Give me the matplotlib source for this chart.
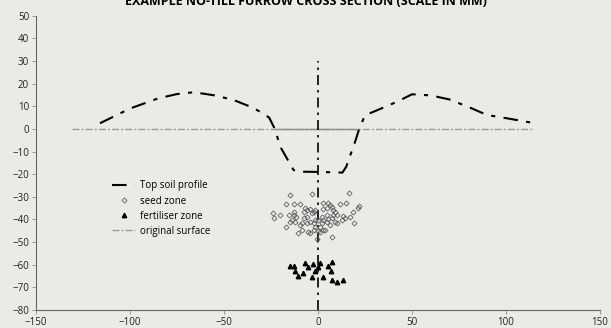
import numpy as np
import matplotlib
matplotlib.use("Agg")
import matplotlib.pyplot as plt

plt.rcParams["font.family"] = ["Open Sans", "DejaVu Sans"]

# top soil profile (mm)
profile_x = [-116, -100, -85, -75, -66, -55, -45, -35, -30, -26, -23, -20, -13, -10, 0, 13, 15, 20, 22, 25, 35, 42, 50, 60, 70, 82, 90, 97, 114]
profile_y = [2.5, 9, 13.5, 15.4, 16.2, 14.8, 12.8, 9.5, 7.2, 5, 0, -8, -18.2, -18.9, -19, -19.3, -16.7, -5, 0.3, 6, 9.5, 12, 15.3, 14.8, 13, 9, 6.1, 5.2, 2.7]

# original soil surface
surface_x = [-131, 114]
surface_y = [0, 0]
slot_x = [-23, 22]
slot_y = [0, 0]

# furrow centre line
centre_x = [0, 0]
centre_y = [-80, 30]

seed_x = [-14.8, -3.3, 16.7, -16.9, -13.0, -9.5, -6.8, -6.0, -7.7, -4.2, -2.4, -3.3, -1.5, 2.9, 5.5, 6.4,
          7.3, 4.6, 2.9, 8.2, 9.1, 11.7, 14.9, 22.0, 21.4, 18.8, -24.0, -23.3, -20.1, -15.7, -13.0, -14.8,
          -13.9, -12.1, -11.6, -8.6, -9.5, -7.7, -6.0, -4.2, -2.4, -1.5, 0.2, 2.0, 2.9, 4.6, 5.5, 7.3,
          9.1, 10.0, 12.6, 13.5, 14.4, 17.0, 19.3, -16.9, -10.9, -8.6, -5.1, -4.2, -2.4, 0.2, 1.1, 2.9,
          3.8, 7.3, -0.7, 6.4, 10.0, 8.2, 4.6, 2.0, -6.0, -13.0, -1.5, 1.1]
seed_y = [-29.2, -28.9, -28.5, -33.2, -33.2, -33.2, -35.1, -35.8, -36.6, -35.5, -36.6, -37.3, -35.8, -32.6,
          -32.9, -33.6, -34.3, -35.1, -35.5, -35.8, -36.6, -33.2, -32.6, -34.1, -35.1, -36.6, -37.3, -39.5,
          -38.0, -38.0, -38.0, -41.0, -40.2, -41.0, -38.8, -41.7, -42.4, -39.5, -38.8, -41.0, -41.7, -40.2,
          -40.2, -41.4, -40.2, -41.0, -39.9, -39.5, -41.0, -41.7, -40.2, -38.5, -39.5, -39.1, -41.4, -43.5,
          -46.1, -44.7, -45.4, -46.1, -44.7, -45.0, -45.4, -44.7, -44.7, -47.6, -48.8, -42.4, -38.0, -38.0,
          -38.0, -38.8, -41.7, -36.6, -43.2, -43.2]

fert_x = [-14.8, -13.0, -6.8, -5.1, -2.8, 0.2, 0.8, -12.1, -8.1, -10.9, -1.5, -3.0, 2.9, 5.2, 7.3, 6.9, 7.3, 9.9, 13.1]
fert_y = [-60.6, -60.6, -59.1, -60.9, -59.7, -61.2, -59.4, -62.6, -63.8, -65.0, -62.6, -65.6, -65.6, -60.6,
          -58.7, -62.6, -66.8, -67.8, -66.8]

bg = "#ECEAE5"
fig = plt.figure(figsize=(6.11, 3.28), dpi=100, facecolor=bg)
ax = fig.add_axes([0.059, 0.055, 0.923, 0.897], facecolor=bg)

ax.plot(surface_x, surface_y, color="#9a9a9a", lw=1.0, dashes=(5, 1.5, 1.5, 1.5), label="original surface", zorder=1)
ax.plot(slot_x, slot_y, color="#8c8c8c", lw=1.0, zorder=1)
ax.plot(centre_x, centre_y, color="black", lw=1.2, dashes=(6, 3, 1.5, 3), zorder=2)
ax.plot(profile_x, profile_y, color="black", lw=1.5, dashes=(7, 4, 2, 4), label="Top soil profile", zorder=3)
ax.plot(seed_x, seed_y, ls="none", marker="D", ms=2.6, mfc="none", mec="#555555", mew=0.55, label="seed zone", zorder=4)
ax.plot(fert_x, fert_y, ls="none", marker="^", ms=3.2, color="black", label="fertiliser zone", zorder=4)

ax.set_xlim(-150, 150)
ax.set_ylim(-80, 50)
ax.set_xticks(np.arange(-150, 151, 50))
ax.set_yticks(np.arange(-80, 51, 10))
ax.tick_params(labelsize=7, colors="#222222", length=3, width=0.6, pad=2)
ax.tick_params(axis="both", color="#888888")
for s in ["top", "right"]:
    ax.spines[s].set_visible(False)
for s in ["left", "bottom"]:
    ax.spines[s].set_color("#666666")
    ax.spines[s].set_linewidth(0.8)

handles, labels = ax.get_legend_handles_labels()
order = [1, 2, 3, 0]
ax.legend([handles[i] for i in order], [labels[i] for i in order], loc="upper left",
          bbox_to_anchor=(0.12, 0.47), frameon=False, fontsize=7, handlelength=2.3,
          handletextpad=0.5, labelspacing=0.42, numpoints=1)

fig.text(0.5, 1 - 5 / 328, "EXAMPLE NO-TILL FURROW CROSS SECTION (SCALE IN MM)", ha="center",
         va="baseline", fontsize=9, fontweight="bold", color="black")

fig.savefig("out.png", dpi=100, facecolor=bg)
